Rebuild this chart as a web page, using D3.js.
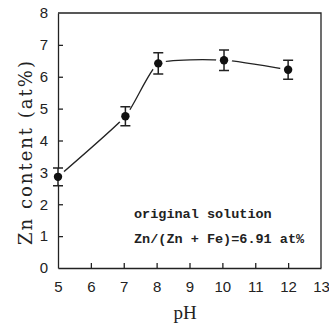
<!DOCTYPE html>
<html>
<head>
<meta charset="utf-8">
<script src="https://cdn.jsdelivr.net/npm/d3@7"></script>
<style>
  body { margin: 0; background: #fff; }
  svg { display: block; }
  .axis path, .axis line { stroke: #222; stroke-width: 1.3; }
  .axis text { font-family: "Liberation Sans", sans-serif; font-size: 15px; fill: #222; }
</style>
</head>
<body>
<svg width="329" height="324"></svg>
<script>
const pH = [5, 7.05, 8.05, 10.05, 12.0];
const zn = [2.86, 4.76, 6.42, 6.52, 6.22];
const err = [0.28, 0.3, 0.33, 0.32, 0.3];
const xTicks = [5, 6, 7, 8, 9, 10, 11, 12, 13];
const yTicks = [0, 1, 2, 3, 4, 5, 6, 7, 8];

const svg = d3.select("svg"),
  margin = { top: 13, right: 8, bottom: 56, left: 58 },
  width = +svg.attr("width") - margin.left - margin.right,
  height = +svg.attr("height") - margin.top - margin.bottom;

const g = svg.append("g").attr("transform", `translate(${margin.left},${margin.top})`);

const x = d3.scaleLinear().domain([5, 13]).range([0, width]);
const y = d3.scaleLinear().domain([0, 8]).range([height, 0]);

const data = pH.map((d, i) => ({ x: d, y: zn[i], e: err[i] }));

// frame (top and right sides)
g.append("path")
  .attr("d", `M0,0H${width}V${height}`)
  .attr("fill", "none")
  .attr("stroke", "#222")
  .attr("stroke-width", 1.3);

g.append("g")
  .attr("class", "axis")
  .attr("transform", `translate(0,${height})`)
  .call(d3.axisBottom(x).tickValues(xTicks).tickSizeInner(-5).tickSizeOuter(0).tickPadding(13))
  .call(a => a.selectAll(".tick line").filter(d => d === 5 || d === 13).remove());

g.append("g")
  .attr("class", "axis")
  .call(d3.axisLeft(y).tickValues(yTicks).tickSizeInner(-5).tickSizeOuter(0).tickPadding(10))
  .call(a => a.selectAll(".tick line").filter(d => d === 0 || d === 8).remove());

// curve
const line = d3.line()
  .x(d => x(d.x))
  .y(d => y(d.y))
  .curve(d3.curveCardinal.tension(0.5));

g.append("path")
  .datum(data)
  .attr("d", line)
  .attr("fill", "none")
  .attr("stroke", "#222")
  .attr("stroke-width", 1.3);

// gaps round the markers
g.selectAll(".halo")
  .data(data)
  .enter()
  .append("circle")
  .attr("cx", d => x(d.x))
  .attr("cy", d => y(d.y))
  .attr("r", 8)
  .attr("fill", "#fff");

// error bars
const cap = 5;
g.selectAll(".err")
  .data(data)
  .enter()
  .append("path")
  .attr("d", d => {
    const cx = x(d.x), t = y(d.y + d.e), b = y(d.y - d.e);
    return `M${cx},${t}V${b}M${cx - cap},${t}H${cx + cap}M${cx - cap},${b}H${cx + cap}`;
  })
  .attr("fill", "none")
  .attr("stroke", "#222")
  .attr("stroke-width", 1.5);

g.selectAll(".pt")
  .data(data)
  .enter()
  .append("circle")
  .attr("cx", d => x(d.x))
  .attr("cy", d => y(d.y))
  .attr("r", 4.2)
  .attr("fill", "#111");

// annotation
const note = g.append("text")
  .attr("font-family", "Liberation Mono, monospace")
  .attr("font-weight", "bold")
  .attr("font-size", "13.5px")
  .attr("fill", "#222");
note.append("tspan").attr("x", 76).attr("y", 205).text("original solution");
note.append("tspan").attr("x", 76).attr("y", 230).text("Zn/(Zn + Fe)=6.91 at%");

// X axis label
svg.append("text")
  .attr("x", 185)
  .attr("y", 319)
  .attr("text-anchor", "middle")
  .attr("font-family", "Liberation Serif, serif")
  .attr("font-size", "19px")
  .attr("fill", "#222")
  .text("pH");

// Y axis label
svg.append("text")
  .attr("transform", "rotate(-90)")
  .attr("x", -152)
  .attr("y", 32)
  .attr("text-anchor", "middle")
  .attr("font-family", "DejaVu Serif, serif")
  .attr("font-size", "18px")
  .attr("letter-spacing", "2px")
  .attr("fill", "#222")
  .text("Zn content (at%)");
</script>
</body>
</html>
